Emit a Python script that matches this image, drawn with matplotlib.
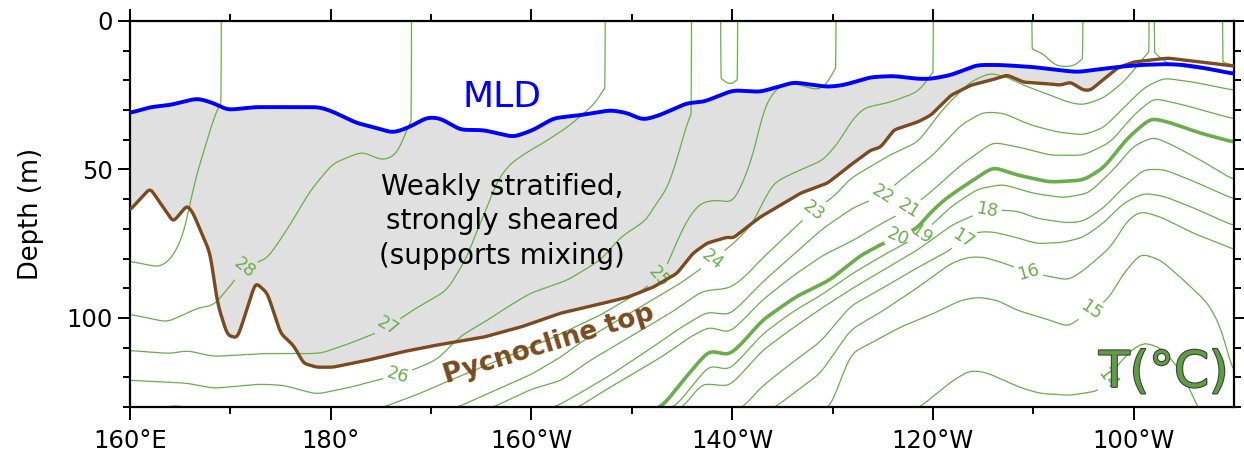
import numpy as np
import matplotlib
matplotlib.use("Agg")
import matplotlib.pyplot as plt
import matplotlib.patheffects as pe

# ---------------- data ----------------
# Isotherm depths (m) along the equator; negative depth = isotherm absent (above the surface)
t29_lon = [160, 163, 164.3, 165.6, 166.0, 166.7, 167.7, 168.5, 169.0, 169.1, 270]
t29_dep = [81, 83, 79.5, 70, 60, 51, 40, 31, 25.6, -5, -5]

t28_lon = [160, 163.7, 167, 168.3, 170.3, 171.3, 173.7, 175.7, 178, 180.2, 183.1, 185.2, 186.6, 187.7, 187.95, 188.05, 270]
t28_dep = [98.8, 101.4, 96.4, 96, 88, 83, 80, 70, 57, 48, 44, 47, 45, 36, 30, -5, -5]

t27_lon = [160, 164, 165.7, 168.3, 173.7, 179, 182, 184.6, 185.7, 187.3, 188.2, 191.6, 193.6, 194.6, 195.6,
           196.6, 197.9, 199.9, 201.2, 203.6, 205.6, 206.9, 207.25, 207.35, 270]
t27_dep = [111, 112, 111, 113, 112, 112, 108.5, 105, 103, 99.5, 97.4, 90.7, 79.5, 70.4, 62.7,
           53.6, 48, 43.5, 41, 35.7, 30, 25.6, 20, -5, -5]

t26_lon = [160, 165.7, 168.3, 173, 175.3, 178.6, 181.9, 184.6, 186.7, 188.9, 190.6, 193, 195.6, 197.6, 199.9,
           203.6, 206.9, 208.9, 211.5, 212.5, 213.5, 214.5, 215.5, 215.85, 215.95, 218.85, 218.95, 220.0,
           220.45, 220.55, 270]
t26_dep = [121, 122, 123.7, 122.3, 122.7, 125.7, 123.4, 121, 119.3, 116.6, 114, 106, 100.8, 96.4, 91.7,
           87.3, 80.5, 72.8, 67, 61, 57, 46.8, 34.4, 27.6, -5, -5, 19.5, 22.6,
           19, -5, -5]

t25_lon = [160, 163, 164.5, 166, 168, 175, 182, 185.2, 188.9, 191.9, 196.9, 201.9, 206.9, 210.8, 212.8, 213.5,
           214.1, 215.5, 216.8, 218.5, 220.1, 221.5, 222.5, 223.1, 224.5, 226.1, 228.5, 229.5, 230.2, 230.35, 270]
t25_dep = [132, 130.3, 129.5, 130.3, 133, 135, 133, 130.1, 125.4, 121, 114, 107, 99, 91.3, 86.3, 83,
           77.2, 67, 61.3, 60.3, 61.3, 51.2, 40, 29.3, 22.2, 20.9, 23.3, 21.6, 15.5, -5, -5]

t24_lon = [160, 185, 192.7, 196, 200, 203, 205, 210, 215, 218.1, 220.5, 222.1, 222.8, 224.1, 226.1, 229.1,
           230.8, 231.8, 233.1, 235.8, 238.5, 239.5, 239.95, 240.05, 249.85, 249.95, 251, 252, 253, 254.7,
           254.85, 254.95, 268.85, 268.95, 270]
t24_dep = [140, 137, 130, 125, 119, 113, 108, 98, 88, 80.5, 73.8, 68, 62.7, 54.6, 51.2, 46.8,
           40, 34, 29.3, 27.3, 23.9, 19.9, 15.8, -5, -5, 9.8, 10.8, 14.8, 15.5, 14.8,
           8, -5, -5, 14.5, 15]

t23_lon = [160, 190, 196.2, 200, 203, 206, 210, 214, 217, 219.7, 221, 223, 225.5, 228.1, 230.1, 231.8, 235.8,
           238.5, 241.1, 243.7, 245.7, 247.4, 249, 251.7, 253.7, 255, 257, 259, 260.7, 261.45, 261.55,
           262.05, 262.15, 262.7, 263.7, 266, 270]
t23_dep = [148, 137, 130, 124, 121, 114, 106, 98, 91, 90, 87, 80, 72, 63.7, 59.3, 53, 45,
           40.8, 29.3, 20.6, 17.5, 19, 21.6, 25, 27.6, 28.3, 26, 20.6, 13.8, 9.8, -5,
           -5, 10, 13, 14.8, 16, 17.5]

t22_lon = [160, 195, 202.4, 205, 208, 212, 215, 217.5, 219.7, 221, 223, 226, 229, 232, 235, 237, 240, 242.8,
           245, 247, 249.7, 252.4, 255, 257, 259, 261, 263, 266, 270]
t22_dep = [155, 135, 130, 125, 119, 110, 103, 98, 99, 95, 88, 79, 70, 63, 58.6, 53, 45.2, 35,
           30.7, 31, 35, 37.4, 38.4, 36, 29.3, 22.6, 19.2, 20.6, 23.3]

t21_lon = [160, 195, 204.7, 207, 210, 213, 216, 217.7, 219.7, 221, 223, 226, 229, 232, 235, 237.8, 240, 242.8,
           246, 249, 251.7, 255, 257.7, 260, 262, 265, 270]
t21_dep = [160, 138, 130, 125, 119, 113, 106, 103, 105, 101, 94, 86, 79, 74, 68, 63, 57, 48.5,
           40.8, 42.8, 45.2, 45.2, 40.8, 31.7, 26, 28.3, 33]

t20_lon = [160, 200, 210, 213, 215.7, 217.7, 219.7, 221, 223, 226.3, 229.7, 232.8, 235.1, 238.5, 239.5, 241.1,
           242.8, 246, 248.4, 251.7, 255, 257, 259.4, 261.7, 263.4, 266.7, 270]
t20_dep = [165, 140, 133, 130, 118.7, 110.9, 112.6, 108.5, 100.8, 93, 87.3, 79, 74.8, 69.8, 65.4, 60.3,
           56.3, 49.2, 51.9, 54.3, 53.6, 49.5, 39.4, 32.7, 34, 37.8, 40.8]

t19_lon = [160, 205, 211, 214.3, 216, 217.7, 219.7, 221, 223, 226, 229, 232, 235, 238.8, 242, 244.5, 247, 250,
           253, 255.5, 258, 260, 262, 264, 267, 270]
t19_dep = [168, 136, 132.5, 130, 123, 116, 117.5, 113, 105.5, 98, 92, 85, 79, 72, 62, 56.5, 55, 58,
           59.5, 58, 50, 42, 39, 42, 47.5, 53.6]

t18_lon = [160, 205, 212, 215.1, 217, 219.7, 221, 223, 226, 229, 232, 235, 238.5, 242, 245.4, 248.4, 250.4,
           253.4, 255, 257, 259, 261, 263, 266, 270]
t18_dep = [175, 140, 135, 130, 122, 123, 118.5, 111, 103.5, 96.5, 90, 84, 77, 68.5, 63.5, 64, 66.5,
           68, 67.5, 63, 56, 50, 50, 54, 60]

t17_lon = [160, 210, 218, 221.1, 223, 226, 228.8, 231.8, 235.1, 238.5, 241.8, 243, 244.5, 246, 248.4, 250.4,
           253, 255, 257, 259, 261, 263, 266, 270]
t17_dep = [180, 142, 135, 130, 123, 115, 108, 96, 89.7, 83, 77, 73, 71, 71, 73, 75,
           74.5, 72.8, 68, 61.3, 58, 59, 63, 69]

t16_lon = [160, 215, 220, 224.3, 228.8, 231.8, 235.1, 238.5, 241.8, 243.5, 245.1, 247.1, 249.5, 251, 253.5,
           255, 257.7, 259.4, 260.7, 262.7, 266, 269.4, 270]
t16_dep = [185, 145, 136, 130, 118.6, 104, 97.4, 89.7, 81.6, 79.5, 79.5, 81.6, 84.6, 85.6, 87.3,
           84, 76.2, 67, 64, 66, 71.5, 76, 77]

t15_lon = [160, 215, 225, 229.8, 231.8, 233.5, 236.8, 240.1, 242.8, 244.5, 246.4, 248.4, 251.7, 253.5, 255.7,
           257.4, 259, 260.7, 262.7, 265, 267.4, 268.7, 269.9, 270]
t15_dep = [190, 150, 138, 130, 112, 109, 103, 98.4, 94, 93, 94, 97.4, 100.8, 103, 97.4,
           94, 85, 78.2, 80.5, 87.3, 95, 103, 118.6, 120]

t14_lon = [160, 225, 232, 238.7, 242, 243.7, 245.3, 248.7, 250.7, 253.7, 256.7, 257.7, 259.7, 261, 262.7,
           264.7, 266.4, 268, 270]
t14_dep = [195, 145, 138, 130, 121, 117.6, 118.3, 123.4, 125.4, 126, 124.4, 118.6, 111, 108.2, 110,
           117.6, 130, 140, 145]

# Mixed-layer depth (blue) and pycnocline top (brown)
mld_lon = [160, 162, 164, 166.7, 168.3, 169.7, 172.3, 175.3, 178.9, 180.2, 182.6, 184.2, 186.2, 187.8, 189.6,
           190.9, 192.9, 195.2, 198.2, 200.2, 202.2, 204.9, 207.9, 209.6, 211.1, 212.8, 215.5, 217.1, 220.1,
           222.8, 226.1, 229.5, 231.1, 233.8, 236.1, 238.5, 239.8, 241.8, 244.4, 246.7, 250.0, 252.4, 254.4,
           256.7, 258.4, 260.7, 263.4, 265.0, 267.0, 270]
mld_dep = [31.0, 29.0, 28.3, 26.0, 27.6, 30.0, 29.0, 29.0, 29.0, 30.5, 34.4, 35.7, 37.7, 35.8, 32.4,
           32.7, 36.7, 36.7, 39.1, 36.7, 32.7, 31.7, 30.0, 31.0, 33.4, 31.7, 27.6, 27.3, 23.3,
           23.9, 20.6, 22.2, 21.6, 18.9, 18.5, 19.5, 19.5, 18.2, 14.8, 14.8, 15.5, 16.5, 17.2,
           16.2, 15.5, 14.8, 14.5, 14.8, 15.8, 17.8]

pyc_lon = [160, 162, 163.3, 164.3, 165.7, 166.3, 166.7, 168, 168.7, 169.7, 170.7, 171.3, 172.5, 173.7, 175,
           176.3, 177.3, 178.6, 180.2, 183.6, 186.9, 190, 195.2, 199, 202.9, 206, 209.6, 212.1, 214.5, 216.1,
           217.5, 219.5, 220.1, 221.1, 222.8, 224.5, 226.8, 229.5, 231.8, 233.8, 234.8, 236.1, 238.5, 239.8,
           241.8, 243.8, 245.8, 247.4, 249, 251, 252.7, 253.7, 255, 255.7, 258.4, 260, 263.4, 266.7, 270]
pyc_dep = [63.7, 56.3, 62.7, 67.7, 62, 64.7, 68, 78.2, 95, 105.8, 106.8, 100.8, 88, 91.7, 105.2,
           109.3, 115.3, 116.6, 116.6, 114.3, 111.6, 109.5, 106.5, 103, 98.4, 96, 93, 89.7, 85, 78.2,
           74.8, 72.8, 73.1, 70.4, 66, 62.7, 58, 54.6, 48.5, 43.5, 42.5, 36.7, 34, 31.7,
           25, 21.6, 19.9, 18.2, 20.6, 21, 21.6, 20.6, 23.3, 23.3, 15.8, 13.8, 12.5, 13.8, 15.2]

xtick_vals = [160, 180, 200, 220, 240, 260]
xtick_labels = ["160°E", "180°", "160°W", "140°W", "120°W", "100°W"]
ytick_vals = [0, 50, 100]
contour_levels = list(range(14, 30))
label_pos = [(171.3, 83), (185.7, 103), (186.7, 119.3), (212.8, 86.3), (218.1, 80.5), (228.1, 63.7),
             (235.0, 58.6), (237.8, 64.7), (236.6, 73.0), (238.8, 72.0), (245.4, 64.4), (243.0, 73.0),
             (249.5, 84.6), (255.7, 97.4), (257.2, 120.0)]

isotherms = [
    (29, t29_lon, t29_dep), (28, t28_lon, t28_dep), (27, t27_lon, t27_dep), (26, t26_lon, t26_dep),
    (25, t25_lon, t25_dep), (24, t24_lon, t24_dep), (23, t23_lon, t23_dep), (22, t22_lon, t22_dep),
    (21, t21_lon, t21_dep), (20, t20_lon, t20_dep), (19, t19_lon, t19_dep), (18, t18_lon, t18_dep),
    (17, t17_lon, t17_dep), (16, t16_lon, t16_dep), (15, t15_lon, t15_dep), (14, t14_lon, t14_dep),
]

# ---------------- helpers ----------------
lon_grid = np.linspace(160, 270, 2201)
dlon = lon_grid[1] - lon_grid[0]


def smooth_segments(y, sigma_deg):
    """Gaussian smoothing applied only within the segments where y > 0 (keeps outcrop walls sharp)."""
    s = sigma_deg / dlon
    n = int(4 * s)
    k = np.exp(-0.5 * (np.arange(-n, n + 1) / s) ** 2)
    m = (y > 0).astype(float)
    pad = n
    yp = np.pad(y * m, pad, mode="edge")
    mp = np.pad(m, pad, mode="edge")
    num = np.convolve(yp, k, mode="same")[pad:-pad]
    den = np.convolve(mp, k, mode="same")[pad:-pad]
    out = y.copy()
    ok = m > 0
    out[ok] = num[ok] / den[ok]
    return out


# ---------------- build temperature field from isotherm depths ----------------
z_grid = np.linspace(0, 130, 521)
temps = [30.0] + [float(t) for t, _, _ in isotherms] + [13.0]
D = np.empty((len(temps), lon_grid.size))
D[0] = -10.0
for i, (t, lo, de) in enumerate(isotherms):
    D[i + 1] = smooth_segments(np.interp(lon_grid, lo, de), 0.45)
D[-1] = 220.0
for i in range(1, len(temps)):
    D[i] = np.maximum(D[i], D[i - 1] + 0.01)
tv = np.array(temps)
Tf = np.empty((z_grid.size, lon_grid.size))
for j in range(lon_grid.size):
    Tf[:, j] = np.interp(z_grid, D[:, j], tv)

# ---------------- plot ----------------
plt.rcParams["font.family"] = ["DejaVu Sans"]
fig = plt.figure(figsize=(12.44, 4.57), dpi=100)
ax = fig.add_axes([130 / 1244, 50 / 457, 1104 / 1244, 386 / 457])

green = "#6aae4c"
mld_i = smooth_segments(np.interp(lon_grid, mld_lon, mld_dep), 0.45)
pyc_i = smooth_segments(np.interp(lon_grid, pyc_lon, pyc_dep), 0.2)
ax.fill_between(lon_grid, mld_i, pyc_i, where=pyc_i > mld_i, interpolate=True,
                color="#e0e0e0", lw=0, zorder=0)

lws = [2.6 if l == 20 else 0.9 for l in contour_levels]
cs = ax.contour(lon_grid, z_grid, Tf, levels=contour_levels, colors=green, linewidths=lws, zorder=2)
ax.clabel(cs, manual=label_pos, inline=True, fmt="%d", fontsize=12.5, colors=green, inline_spacing=4)

ax.plot(lon_grid, pyc_i, color="#7b4a1e", lw=2.4, zorder=4, solid_capstyle="round")
ax.plot(lon_grid, mld_i, color="#0000ff", lw=2.8, zorder=5)

ax.text(197.1, 25.6, "MLD", color="#0000ff", fontsize=26, ha="center", va="center", zorder=6)
ax.text(197.1, 67.4, "Weakly stratified,\nstrongly sheared\n(supports mixing)", color="black",
        fontsize=20, ha="center", va="center", linespacing=1.3, zorder=6)
ax.text(201.7, 109.0, "Pycnocline top", color="#7b4a1e", fontsize=19, fontweight="bold",
        ha="center", va="center", rotation=17, zorder=6)
ax.text(263.0, 118.5, "T(°C)", color="#5e9e42", fontsize=36, ha="center", va="center", zorder=6,
        path_effects=[pe.withStroke(linewidth=1.5, foreground="#3a3a3a")])

ax.set_xlim(160, 270)
ax.set_ylim(130, 0)
ax.set_xticks(xtick_vals)
ax.set_xticklabels(xtick_labels)
ax.set_xticks(np.arange(170, 270, 20), minor=True)
ax.set_yticks(ytick_vals)
ax.set_yticks([10, 20, 30, 40, 60, 70, 80, 90, 110, 120, 130], minor=True)
ax.tick_params(which="both", direction="out", top=True, right=True, labelsize=17.5, width=1.4)
ax.tick_params(which="major", length=9)
ax.tick_params(which="minor", length=5)
ax.tick_params(axis="x", pad=7)
for s in ax.spines.values():
    s.set_linewidth(1.6)
ax.set_ylabel("Depth (m)", fontsize=18.5, labelpad=16)

fig.savefig("out.png", dpi=100)
